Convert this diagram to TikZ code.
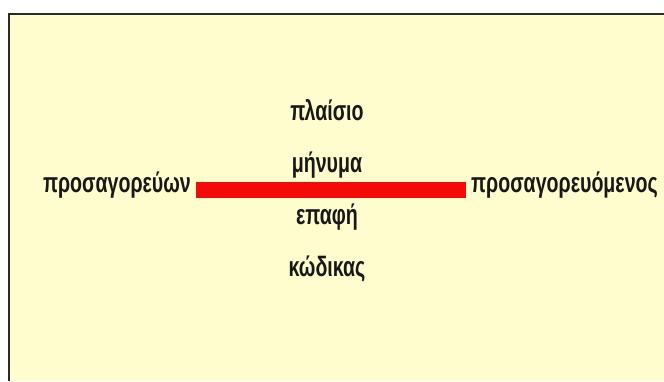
\documentclass[tikz,border=0pt]{standalone}
\usepackage{fontspec}
\setmainfont{Liberation Sans}[FakeStretch=0.7]
\definecolor{slidePaper}{HTML}{FFFCCD}
\definecolor{slideEdge}{HTML}{2A2A26}
\definecolor{slideInk}{HTML}{181818}
\definecolor{slideRed}{HTML}{F50A0A}
\tikzset{
  slide frame/.style={draw=slideEdge, line width=2pt},
  party label/.style={font=\fontsize{28}{32}\selectfont\bfseries, text=slideInk, inner xsep=5pt, inner ysep=0pt},
  factor label/.style={font=\fontsize{28}{32}\selectfont\bfseries, text=slideInk, inner sep=0pt, anchor=base},
  contact bar/.style={draw=slideRed, line width=16pt},
}
\begin{document}
\begin{tikzpicture}[x=1pt, y=-1pt]
  \useasboundingbox (0,0) rectangle (664,381);
  % Slide background with its dark upper and left edge
  \fill[slidePaper] (9,14) rectangle (664,381);
  \draw[slide frame] (9,381) -- (9,14) -- (664,14);
  % The two parties and the line between them
  \node[party label, anchor=mid east] (sender) at (196,190) {προσαγορεύων};
  \node[party label, anchor=mid west] (receiver) at (466,190) {προσαγορευόμενος};
  \draw[contact bar] (sender.mid east) -- (receiver.mid west);
  % Factors stacked over and under the line
  \foreach \name/\word/\y in {context/πλαίσιο/120, message/μήνυμα/172,
      contact/επαφή/224, code/κώδικας/276}
    \node[factor label] (\name) at (327,\y) {\word};
\end{tikzpicture}
\end{document}
